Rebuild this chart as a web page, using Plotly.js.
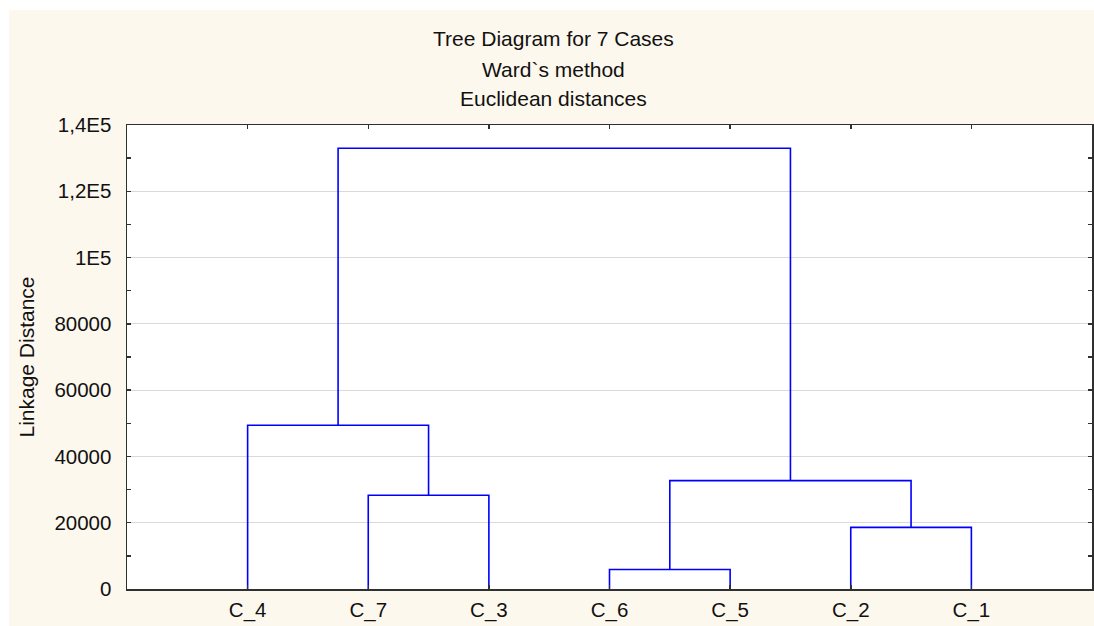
<!DOCTYPE html>
<html>
<head>
<meta charset="utf-8">
<script src="https://cdn.plot.ly/plotly-3.0.1.min.js"></script>
<style>
  html, body { margin: 0; padding: 0; background: #ffffff; }
  #chart { position: absolute; left: 9px; top: 10px; width: 1085px; height: 616px; }
</style>
</head>
<body>
<div id="chart"></div>
<script>
// ---- data ----
const leaves = ['C_4', 'C_7', 'C_3', 'C_6', 'C_5', 'C_2', 'C_1'];
// merges: cluster ids 0..6 are leaves (in display order); each merge creates id 7, 8, ...
const mergeLeft   = [3, 5, 1, 7, 0, 11];
const mergeRight  = [4, 6, 2, 8, 9, 10];
const mergeHeight = [5900, 18600, 28300, 32700, 49400, 133000];
const yTickVals = [0, 20000, 40000, 60000, 80000, 100000, 120000, 140000];
const yTickText = ['0', '20000', '40000', '60000', '80000', '1E5', '1,2E5', '1,4E5'];
const titleLines = ['Tree Diagram for 7 Cases', 'Ward`s method', 'Euclidean distances'];
const yAxisTitle = 'Linkage Distance';

// ---- build dendrogram segments ----
const posX = leaves.map((_, i) => i + 1);
const posY = leaves.map(() => 0);
const xs = [], ys = [];
for (let k = 0; k < mergeHeight.length; k++) {
  const a = mergeLeft[k], b = mergeRight[k], h = mergeHeight[k];
  xs.push(posX[a], posX[a], posX[b], posX[b], null);
  ys.push(posY[a], h, h, posY[b], null);
  posX.push((posX[a] + posX[b]) / 2);
  posY.push(h);
}

const FONT = 'Liberation Sans, Arial, sans-serif';
const W = 1085, H = 616;
const M = { l: 118, r: 2, t: 115, b: 37 };
const plotW = W - M.l - M.r;
const plotH = H - M.t - M.b;
function paperY(pxFromTop) { return (H - M.b - pxFromTop) / plotH; }
function paperX(pxFromLeft) { return (pxFromLeft - M.l) / plotW; }

const titleCenters = [28, 59, 89];
const annotations = titleLines.map((t, i) => ({
  text: t, xref: 'paper', yref: 'paper', x: paperX(544), y: paperY(titleCenters[i]),
  xanchor: 'center', yanchor: 'middle', showarrow: false,
  font: { family: FONT, size: 21, color: '#111111' }
}));

const trace = {
  x: xs, y: ys, type: 'scatter', mode: 'lines',
  line: { color: '#0000ff', width: 1.6 }, hoverinfo: 'skip', showlegend: false
};

const layout = {
  width: W, height: H,
  margin: M,
  paper_bgcolor: '#fdf8ee',
  plot_bgcolor: '#ffffff',
  font: { family: FONT, size: 20, color: '#111111' },
  annotations: annotations,
  xaxis: {
    range: [0, 8], tickvals: leaves.map((_, i) => i + 1), ticktext: leaves,
    ticks: 'inside', ticklen: 4, tickcolor: '#303030', tickwidth: 1.5,
    showline: true, linecolor: '#303030', linewidth: 1.5, mirror: 'ticks',
    showgrid: false, zeroline: false, ticklabelstandoff: 2,
    tickfont: { family: FONT, size: 20.5, color: '#111111' }
  },
  yaxis: {
    range: [0, 140000], tickvals: yTickVals, ticktext: yTickText,
    ticks: 'inside', ticklen: 4, tickcolor: '#303030', tickwidth: 1.5,
    minor: { dtick: 10000, ticks: 'inside', ticklen: 4, tickcolor: '#303030', showgrid: false },
    showline: true, linecolor: '#303030', linewidth: 1.5, mirror: 'ticks',
    showgrid: true, gridcolor: '#d9d9d9', gridwidth: 1, zeroline: false,
    ticklabelstandoff: 10,
    tickfont: { family: FONT, size: 20.5, color: '#111111' },
    title: { text: yAxisTitle, standoff: 14, font: { family: FONT, size: 21, color: '#111111' } }
  }
};

Plotly.newPlot('chart', [trace], layout, { displayModeBar: false, staticPlot: true });
</script>
</body>
</html>
